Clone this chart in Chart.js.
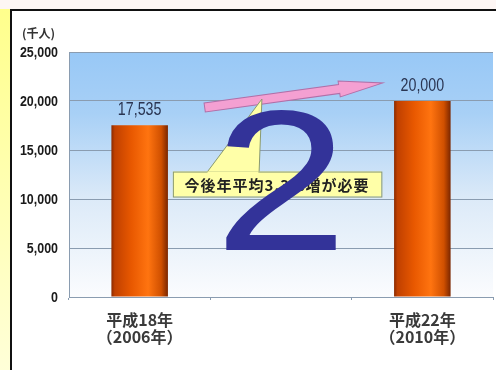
<!DOCTYPE html>
<html>
<head>
<meta charset="utf-8">
<script src="https://cdn.jsdelivr.net/npm/chart.js@4.4.1/dist/chart.umd.min.js"></script>
<style>
  html, body { margin: 0; padding: 0; background: #fff; }
  #wrap { width: 496px; height: 370px; position: relative; }
</style>
</head>
<body>
<div id="wrap"><canvas id="grafico" width="496" height="370"></canvas></div>
<script>
// Datos del gráfico (千人)
const categorias = [["平成18年", "（2006年）"], "", ["平成22年", "（2010年）"]];
const valores = [17535, null, 20000];
const etiquetasValor = ["17,535", null, "20,000"];
const ticksY = [0, 5000, 10000, 15000, 20000, 25000];
const unidad = "(千人)";
const textoNota = "今後年平均3.3%増が必要";
const numeroGrande = "2";

// Flecha y nota en unidades de datos (índice de categoría, valor)
const flechaDesde = [0.46, 19340];
const flechaHasta = [1.72, 21840];

const JP = "'Noto Sans CJK JP', 'Liberation Sans', sans-serif";
const NUM = "'Liberation Sans', Arial, sans-serif";

// Texto estrechado horizontalmente (imita una fuente condensada)
function textoEstrecho(ctx, txt, x, y, escala) {
  ctx.save();
  ctx.translate(x, y);
  ctx.scale(escala, 1);
  ctx.fillText(txt, 0, 0);
  ctx.restore();
}

// Fondo: franja amarilla, borde negro y degradado azul del área de trazado
const fondo = {
  id: "fondo",
  beforeDraw(chart) {
    const { ctx, chartArea: a, width, height } = chart;
    ctx.save();
    ctx.fillStyle = "#fdf6f4";
    ctx.fillRect(0, 0, width, 9);
    const gy = ctx.createLinearGradient(0, 0, 0, height);
    gy.addColorStop(0, "#ffff8a");
    gy.addColorStop(1, "#ffffd8");
    ctx.fillStyle = gy;
    ctx.fillRect(0, 9, 10, height);
    ctx.fillStyle = "#111";
    ctx.fillRect(10, 9, width - 10, 2);
    ctx.fillRect(10, 9, 2, height);
    const g = ctx.createLinearGradient(0, a.top, 0, a.bottom);
    g.addColorStop(0, "#98c8f6");
    g.addColorStop(0.25, "#a8d0f6");
    g.addColorStop(0.6, "#dceaf8");
    g.addColorStop(1, "#fbfcfe");
    ctx.fillStyle = g;
    ctx.fillRect(a.left, a.top, a.right - a.left, a.bottom - a.top);
    ctx.restore();
  },
};

// Etiquetas del eje Y, valores, unidad, flecha, nota y el número superpuesto
const adornos = {
  id: "adornos",
  afterDatasetsDraw(chart) {
    const { ctx } = chart;
    const x = chart.scales.x, y = chart.scales.y;
    const px = (v) => x.getPixelForValue(v);
    const py = (v) => y.getPixelForValue(v);
    ctx.save();

    // etiquetas del eje Y (negrita estrecha)
    ctx.font = "bold 15px " + NUM;
    ctx.fillStyle = "#1a1a1a";
    ctx.textAlign = "right";
    ctx.textBaseline = "middle";
    y.ticks.forEach((t) => {
      textoEstrecho(ctx, t.value.toLocaleString("en-US"), y.right - 11, py(t.value) + 1, 0.83);
    });

    // valores sobre las barras
    ctx.font = "19px " + NUM;
    ctx.fillStyle = "#2a3552";
    ctx.textAlign = "center";
    ctx.textBaseline = "bottom";
    valores.forEach((v, i) => {
      if (v == null) return;
      textoEstrecho(ctx, etiquetasValor[i], px(i), py(v) - 6, 0.75);
    });

    // unidad
    ctx.font = "bold 12px " + JP;
    ctx.fillStyle = "#333";
    ctx.textAlign = "left";
    ctx.textBaseline = "middle";
    ctx.fillText(unidad, 22, 33);

    // flecha rosa
    const x0 = px(flechaDesde[0]), y0 = py(flechaDesde[1]);
    const x1 = px(flechaHasta[0]), y1 = py(flechaHasta[1]);
    const ang = Math.atan2(y1 - y0, x1 - x0);
    const len = Math.hypot(x1 - x0, y1 - y0);
    ctx.save();
    ctx.translate(x0, y0);
    ctx.rotate(ang);
    ctx.beginPath();
    ctx.moveTo(0, -4.5);
    ctx.lineTo(len - 44, -4.5);
    ctx.lineTo(len - 44, -8);
    ctx.lineTo(len, 0);
    ctx.lineTo(len - 44, 8);
    ctx.lineTo(len - 44, 4.5);
    ctx.lineTo(0, 4.5);
    ctx.closePath();
    ctx.fillStyle = "#f4a0d2";
    ctx.fill();
    ctx.strokeStyle = "#b070a8";
    ctx.lineWidth = 1;
    ctx.stroke();
    ctx.restore();

    // nota amarilla con puntero
    const bx = px(0.235), bw = px(1.71) - bx;
    const by = py(12800), bh = py(10250) - by;
    const tip = [px(0.865), py(20200)];
    ctx.beginPath();
    ctx.moveTo(px(0.475), by + 1);
    ctx.lineTo(tip[0], tip[1]);
    ctx.lineTo(px(0.845), by + 1);
    ctx.closePath();
    ctx.fillStyle = "#ffffa8";
    ctx.fill();
    ctx.strokeStyle = "#8a9a70";
    ctx.lineWidth = 1;
    ctx.stroke();
    ctx.fillRect(bx, by, bw, bh);
    ctx.strokeRect(bx + 0.5, by + 0.5, bw, bh);
    ctx.fillStyle = "#ffffa8";
    ctx.fillRect(px(0.48), by, px(0.84) - px(0.48), 2);
    ctx.font = "bold 15px " + JP;
    ctx.letterSpacing = "1px";
    ctx.fillStyle = "#222";
    ctx.textAlign = "center";
    ctx.textBaseline = "middle";
    ctx.fillText(textoNota, bx + bw / 2, by + bh / 2 + 1);
    ctx.letterSpacing = "0px";

    // número grande
    ctx.font = "200px " + NUM;
    ctx.fillStyle = "#333399";
    ctx.textAlign = "center";
    ctx.textBaseline = "alphabetic";
    ctx.translate(px(1.0), 250);
    ctx.scale(1.2, 1);
    ctx.fillText(numeroGrande, 0, 0);
    ctx.restore();
  },
};

// Relleno de las barras: degradado horizontal naranja
function rellenoBarra(c) {
  const chart = c.chart;
  if (!chart.chartArea) return "#e85a00";
  const x = chart.scales.x;
  const cx = x.getPixelForValue(c.dataIndex);
  const w = (x.width / categorias.length) * 0.4;
  const g = chart.ctx.createLinearGradient(cx - w / 2, 0, cx + w / 2, 0);
  g.addColorStop(0, "#8a2a00");
  g.addColorStop(0.06, "#c04000");
  g.addColorStop(0.35, "#e85800");
  g.addColorStop(0.65, "#ff7410");
  g.addColorStop(0.88, "#d05000");
  g.addColorStop(1, "#7a2600");
  return g;
}

new Chart(document.getElementById("grafico"), {
  type: "bar",
  data: {
    labels: categorias,
    datasets: [
      {
        data: valores,
        backgroundColor: rellenoBarra,
        borderWidth: 0,
        barPercentage: 0.4,
        categoryPercentage: 1,
      },
    ],
  },
  options: {
    responsive: false,
    animation: false,
    layout: { padding: { left: 11, right: 3, top: 52, bottom: 0 } },
    plugins: { legend: { display: false }, tooltip: { enabled: false } },
    scales: {
      y: {
        min: 0,
        max: 25000,
        afterFit: (s) => { s.width = 58; },
        afterBuildTicks: (s) => { s.ticks = ticksY.map((v) => ({ value: v })); },
        border: { display: true, color: "#8a9cb0" },
        grid: { color: "#8a9cb0", lineWidth: 1, drawTicks: false },
        ticks: { display: false },
      },
      x: {
        afterFit: (s) => { s.height = 73; },
        border: { display: true, color: "#8a9cb0" },
        grid: { drawOnChartArea: false, color: "#8a9cb0", tickLength: 3 },
        ticks: {
          padding: 12,
          color: "#3a3a3a",
          font: { family: JP, size: 16, weight: "bold", lineHeight: 1.05 },
        },
      },
    },
  },
  plugins: [fondo, adornos],
});
</script>
</body>
</html>
